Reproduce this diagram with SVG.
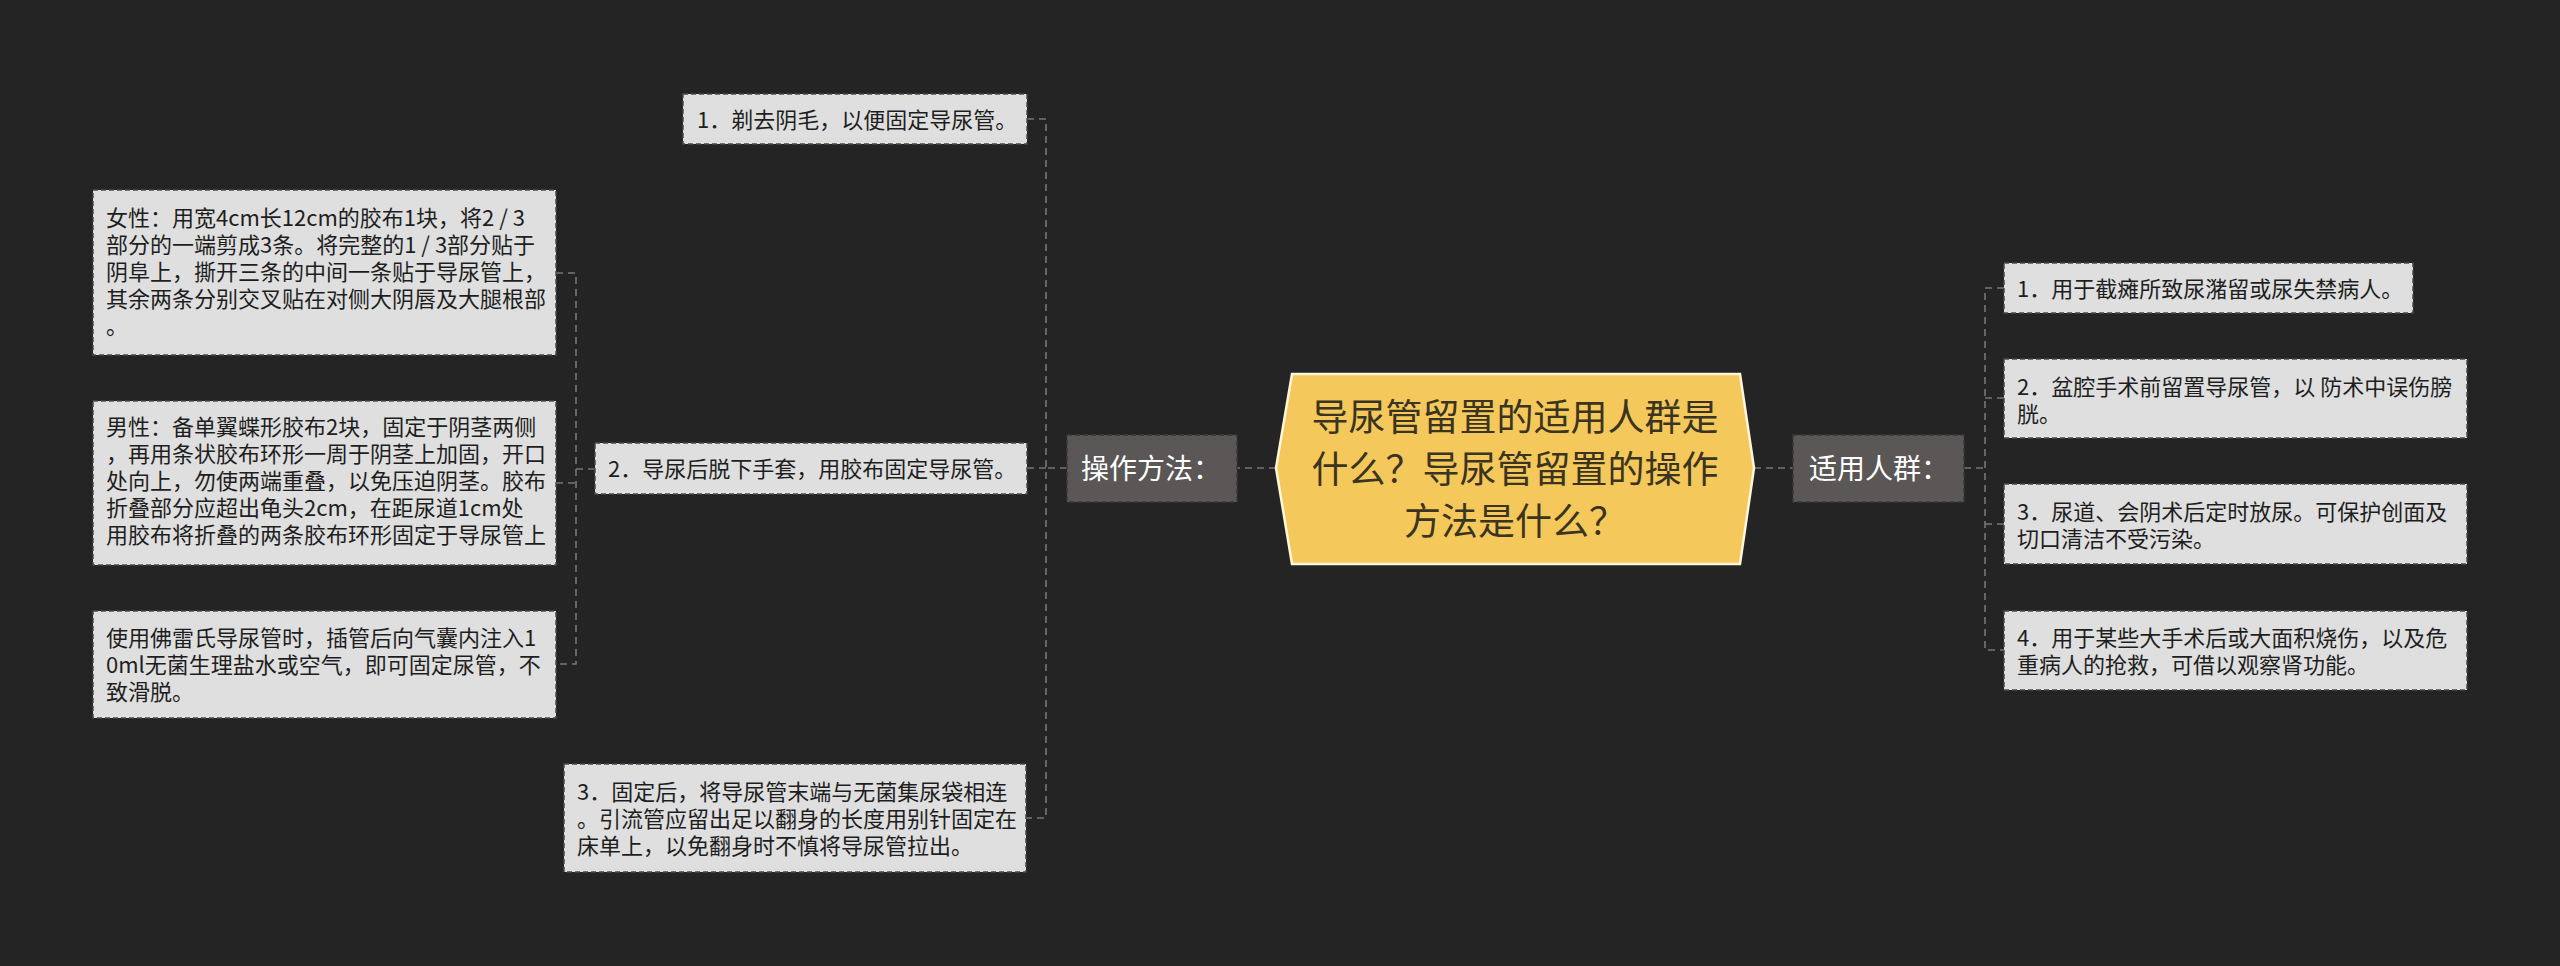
<svg xmlns="http://www.w3.org/2000/svg" width="2560" height="966" viewBox="0 0 2560 966">
<style>
.bg{fill:#242424}
.leaf{fill:#dfdfdf;stroke:#4a4a4a;stroke-width:1.5;stroke-dasharray:5 3}
.cat{fill:#5a5756;stroke:#3a3a3a;stroke-width:1.5;stroke-dasharray:5 3}
.lt{font-family:"Noto Sans CJK SC","Noto Sans",sans-serif;font-size:22px;fill:#1e1e1e}
.ct{font-family:"Noto Sans CJK SC","Noto Sans",sans-serif;font-size:28px;fill:#ffffff}
.mt{font-family:"Noto Sans CJK SC","Noto Sans",sans-serif;font-size:37px;fill:#3a3420;text-anchor:middle}
.cn{fill:none;stroke:#767676;stroke-width:1.6;stroke-dasharray:7 5}
</style>
<rect class="bg" x="0" y="0" width="2560" height="966"/>
<g id="connectors">
<path class="cn" d="M1276 468 H1237"/>
<path class="cn" d="M1754 468 H1793"/>
<path class="cn" d="M1067 468 H1046"/>
<path class="cn" d="M1027 119 H1046 V818 H1026"/>
<path class="cn" d="M1027 468 H1046"/>
<path class="cn" d="M595 469 H576"/>
<path class="cn" d="M556 273 H576 V664 H556"/>
<path class="cn" d="M556 483 H576"/>
<path class="cn" d="M1964 468 H1985"/>
<path class="cn" d="M2004 288 H1985 V650 H2004"/>
<path class="cn" d="M2004 398 H1985"/>
<path class="cn" d="M2004 524 H1985"/>
</g>
<g id="root">
<polygon points="1292,374 1740,374 1754,468 1740,564 1292,564 1276,468" fill="#f4c85a" stroke="#fff6dc" stroke-width="2.5"/>
<text class="mt" x="1515" y="431">导尿管留置的适用人群是</text>
<text class="mt" x="1515" y="483">什么？导尿管留置的操作</text>
<text class="mt" x="1515" y="535">方法是什么？</text>
</g>
<g id="cat-method">
<rect class="cat" x="1067" y="435" width="170" height="67"/>
<text class="ct" x="1081" y="479">操作方法：</text>
</g>
<g id="cat-people">
<rect class="cat" x="1793" y="435" width="171" height="67"/>
<text class="ct" x="1809" y="479">适用人群：</text>
</g>
<g id="m1">
<rect class="leaf" x="683" y="94" width="344" height="50"/>
<text class="lt" x="697" y="128">1．剃去阴毛，以便固定导尿管。</text>
</g>
<g id="m2">
<rect class="leaf" x="595" y="443" width="432" height="51"/>
<text class="lt" x="608" y="477">2．导尿后脱下手套，用胶布固定导尿管。</text>
</g>
<g id="m2a">
<rect class="leaf" x="93" y="190" width="463" height="165"/>
<text class="lt" x="106" y="226">女性：用宽4cm长12cm的胶布1块，将2 / 3</text>
<text class="lt" x="106" y="253">部分的一端剪成3条。将完整的1 / 3部分贴于</text>
<text class="lt" x="106" y="280">阴阜上，撕开三条的中间一条贴于导尿管上，</text>
<text class="lt" x="106" y="307">其余两条分别交叉贴在对侧大阴唇及大腿根部</text>
<text class="lt" x="106" y="334">。</text>
</g>
<g id="m2b">
<rect class="leaf" x="93" y="401" width="463" height="164"/>
<text class="lt" x="106" y="435">男性：备单翼蝶形胶布2块，固定于阴茎两侧</text>
<text class="lt" x="106" y="462">，再用条状胶布环形一周于阴茎上加固，开口</text>
<text class="lt" x="106" y="489">处向上，勿使两端重叠，以免压迫阴茎。胶布</text>
<text class="lt" x="106" y="516">折叠部分应超出龟头2cm，在距尿道1cm处</text>
<text class="lt" x="106" y="543">用胶布将折叠的两条胶布环形固定于导尿管上</text>
</g>
<g id="m2c">
<rect class="leaf" x="93" y="611" width="463" height="107"/>
<text class="lt" x="106" y="646">使用佛雷氏导尿管时，插管后向气囊内注入1</text>
<text class="lt" x="106" y="673">0ml无菌生理盐水或空气，即可固定尿管，不</text>
<text class="lt" x="106" y="700">致滑脱。</text>
</g>
<g id="m3">
<rect class="leaf" x="564" y="764" width="462" height="108"/>
<text class="lt" x="577" y="800">3．固定后，将导尿管末端与无菌集尿袋相连</text>
<text class="lt" x="577" y="827">。引流管应留出足以翻身的长度用别针固定在</text>
<text class="lt" x="577" y="854">床单上，以免翻身时不慎将导尿管拉出。</text>
</g>
<g id="p1">
<rect class="leaf" x="2004" y="263" width="409" height="50"/>
<text class="lt" x="2017" y="297">1．用于截瘫所致尿潴留或尿失禁病人。</text>
</g>
<g id="p2">
<rect class="leaf" x="2004" y="359" width="463" height="79"/>
<text class="lt" x="2017" y="395">2．盆腔手术前留置导尿管，以 防术中误伤膀</text>
<text class="lt" x="2017" y="422">胱。</text>
</g>
<g id="p3">
<rect class="leaf" x="2004" y="484" width="463" height="80"/>
<text class="lt" x="2017" y="520">3．尿道、会阴术后定时放尿。可保护创面及</text>
<text class="lt" x="2017" y="547">切口清洁不受污染。</text>
</g>
<g id="p4">
<rect class="leaf" x="2004" y="611" width="463" height="79"/>
<text class="lt" x="2017" y="646">4．用于某些大手术后或大面积烧伤，以及危</text>
<text class="lt" x="2017" y="673">重病人的抢救，可借以观察肾功能。</text>
</g>
</svg>
